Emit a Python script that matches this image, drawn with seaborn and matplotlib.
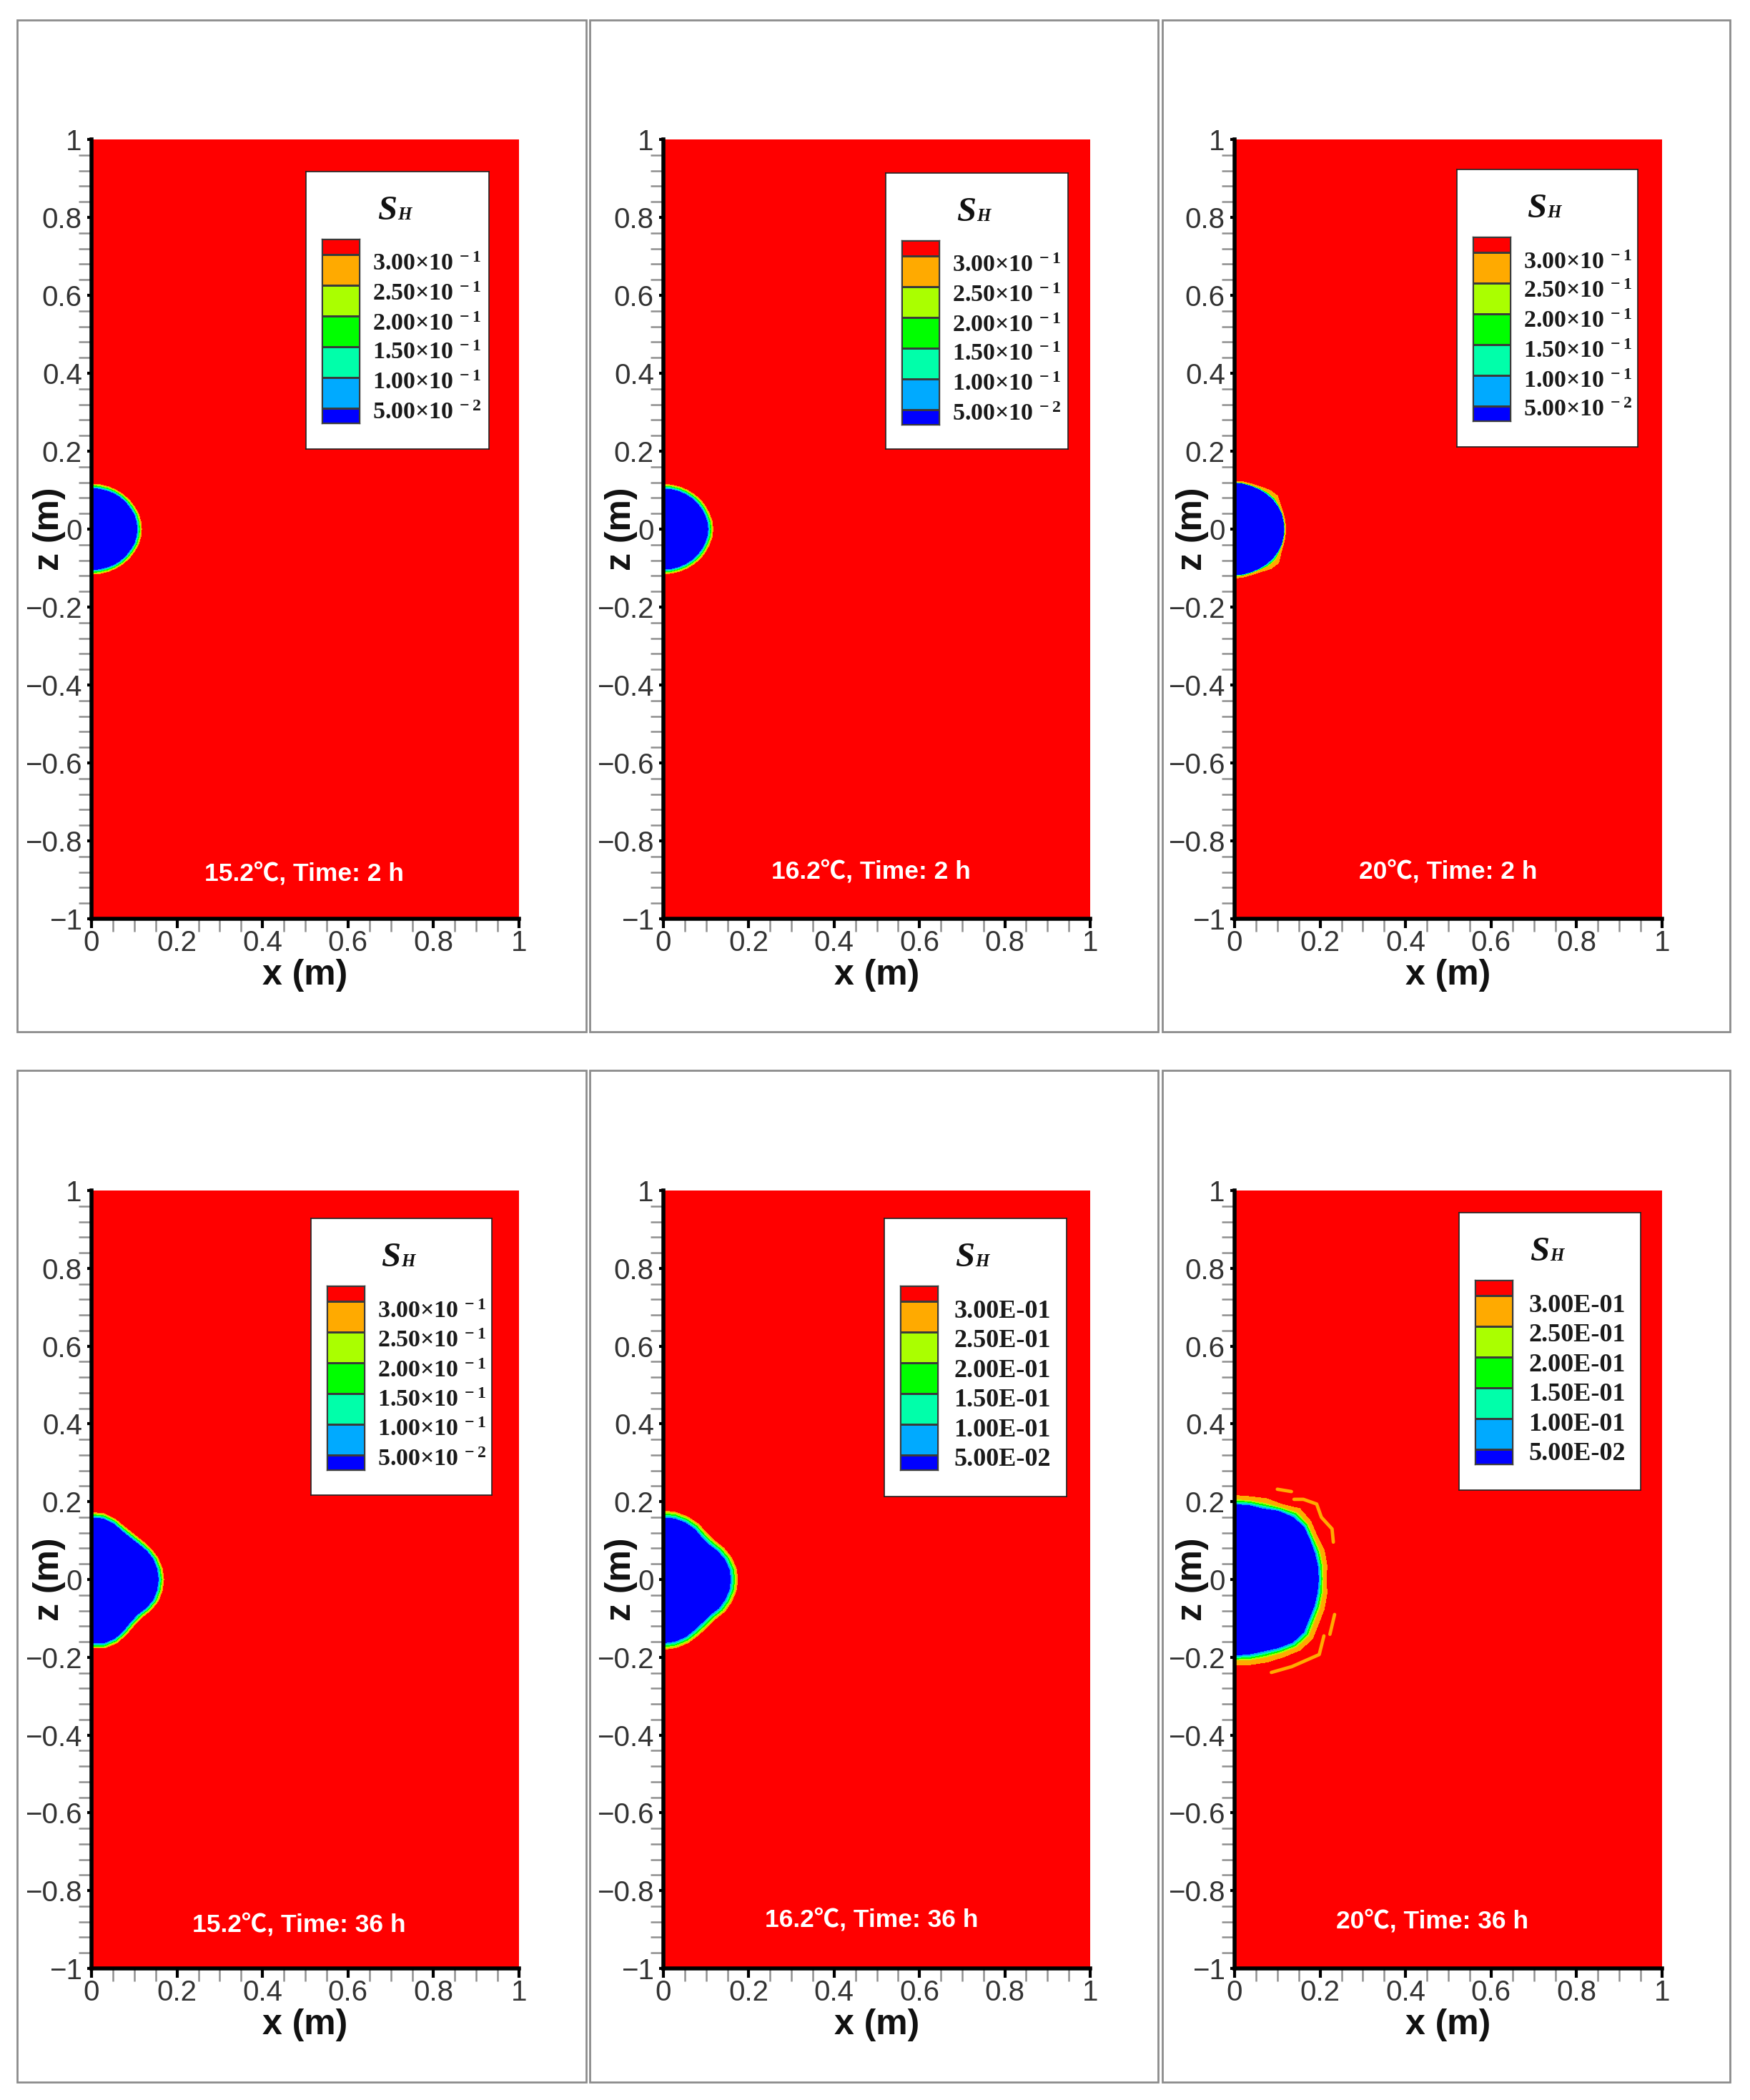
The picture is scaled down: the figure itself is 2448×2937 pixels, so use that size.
# Six contour panels of hydrate saturation, 2 rows x 3 columns

import numpy as np
import seaborn as sns
import matplotlib.pyplot as plt
from matplotlib.colors import ListedColormap
from matplotlib.patches import Rectangle
from matplotlib.transforms import ScaledTranslation

# Data

levels = [0.0, 0.05, 0.10, 0.15, 0.20, 0.25, 0.30, 0.40]
band_colors = ["#0000ff", "#00aaff", "#00ffaa", "#00ff00", "#aaff00", "#ffaa00", "#ff0000"]
sci_labels = ["5.00×10$^{\\,-2}$", "1.00×10$^{\\,-1}$", "1.50×10$^{\\,-1}$", "2.00×10$^{\\,-1}$", "2.50×10$^{\\,-1}$", "3.00×10$^{\\,-1}$"]
e_labels = ["5.00E-02", "1.00E-01", "1.50E-01", "2.00E-01", "2.50E-01", "3.00E-01"]

x_ticks = [0, 0.2, 0.4, 0.6, 0.8, 1]
x_tick_labels = ["0", "0.2", "0.4", "0.6", "0.8", "1"]
z_ticks = [-1, -0.8, -0.6, -0.4, -0.2, 0, 0.2, 0.4, 0.6, 0.8, 1]
z_tick_labels = ["−1", "−0.8", "−0.6", "−0.4", "−0.2", "0", "0.2", "0.4", "0.6", "0.8", "1"]

# stations along the front, degrees from +x axis
angles = [90, 80, 70, 60, 50, 40, 30, 20, 10, 0, -10, -20, -30, -40, -50, -60, -70, -80, -90]

# front radius in metres, S_H = 0.05 (inner) and S_H = 0.30 (outer)
inner_152_2 = [.106, .106, .106, .107, .107, .107, .107, .108, .108, .108, .108, .108, .107, .107, .107, .107, .106, .106, .106]
outer_152_2 = [.118, .118, .118, .118, .118, .118, .118, .119, .119, .119, .119, .119, .118, .118, .118, .118, .118, .118, .118]
inner_162_2 = [.105, .105, .105, .105, .105, .105, .105, .105, .106, .106, .106, .105, .105, .105, .105, .105, .105, .105, .105]
outer_162_2 = [.117, .117, .117, .117, .117, .117, .117, .117, .118, .118, .118, .117, .117, .117, .117, .117, .117, .117, .117]
inner_20_2 = [.120, .119, .118, .118, .118, .118, .118, .118, .117, .117, .117, .118, .118, .118, .118, .118, .118, .119, .119]
outer_20_2 = [.125, .125, .125, .127, .132, .134, .126, .123, .122, .121, .122, .123, .127, .137, .135, .128, .126, .127, .128]
inner_152_36 = [.160, .160, .154, .145, .142, .144, .150, .155, .157, .158, .157, .155, .149, .142, .144, .153, .163, .168, .165]
outer_152_36 = [.174, .174, .167, .158, .155, .157, .162, .167, .170, .171, .170, .168, .162, .155, .157, .166, .176, .181, .178]
inner_162_36 = [.160, .160, .156, .150, .142, .141, .148, .154, .158, .159, .158, .155, .151, .144, .145, .150, .158, .163, .165]
outer_162_36 = [.179, .177, .173, .167, .159, .158, .165, .171, .175, .176, .175, .172, .168, .161, .162, .167, .175, .180, .182]
inner_20_36 = [.194, .195, .195, .205, .212, .213, .205, .201, .199, .198, .198, .200, .203, .213, .213, .205, .198, .197, .196]
outer_20_36 = [.218, .218, .223, .225, .240, .235, .225, .225, .221, .217, .221, .225, .229, .240, .240, .232, .228, .224, .221]

# thin orange streaks outside the front in the last panel (x, z in metres)
streak_x = [[.100, .133], [.139, .161, .192, .203, .228, .231], [.234, .223], [.209, .198, .134, .086]]
streak_z = [[.232, .226], [.206, .206, .194, .160, .130, .096], [-.090, -.141], [-.145, -.193, -.224, -.239]]

captions = ["15.2℃, Time: 2 h", "16.2℃, Time: 2 h", "20℃, Time: 2 h",
            "15.2℃, Time: 36 h", "16.2℃, Time: 36 h", "20℃, Time: 36 h"]

W, H = 2448, 2937

# layout in pixels of the picture
frames = [(24, 28, 820, 1443), (825, 28, 1620, 1443), (1626, 28, 2420, 1443),
          (24, 1497, 820, 2912), (825, 1497, 1620, 2912), (1626, 1497, 2420, 2912)]
axes_px = [(128, 195, 726, 1285), (928, 195, 1525, 1285), (1727, 195, 2325, 1285),
           (128, 1665, 726, 2753), (928, 1665, 1525, 2753), (1727, 1665, 2325, 2753)]
boxes = [(428, 240, 684, 628), (1239, 242, 1494, 628), (2038, 237, 2291, 625),
         (435, 1704, 688, 2091), (1237, 1704, 1492, 2093), (2041, 1696, 2295, 2084)]
caption_xy = [(425, 1222), (1218, 1219), (2026, 1219), (418, 2692), (1219, 2685), (2004, 2687)]

sns.set_theme(style="ticks")
plt.rcParams["font.family"] = ["Liberation Sans", "Noto Sans CJK SC", "DejaVu Sans"]
plt.rcParams["mathtext.fontset"] = "custom"
plt.rcParams["mathtext.rm"] = "Liberation Serif:bold"
plt.rcParams["mathtext.default"] = "rm"

palette = sns.color_palette(band_colors)
cmap = ListedColormap(palette)


def px_axes(fig, box, **kw):
    l, t, r, b = box
    return fig.add_axes([l / W, 1 - b / H, (r - l) / W, (b - t) / H], **kw)


def draw_panel(fig, i, inner, outer, orange=0.8):
    ax = px_axes(fig, axes_px[i])
    th = np.radians(angles)
    inner = np.array(inner)
    outer = np.array(outer)
    mid = inner + orange * (outer - inner)
    # radius columns with the saturation each one carries
    r = np.column_stack([0 * inner, inner, mid, outer, outer * 30])
    s = np.tile([0.0, 0.05, 0.25, 0.30, 0.35], (len(angles), 1))
    ax.contourf(r * np.cos(th)[:, None], r * np.sin(th)[:, None], s, levels=levels, colors=palette)
    ax.set_xlim(0, 1)
    ax.set_ylim(-1, 1)

    sns.despine(ax=ax)
    for side in ["left", "bottom"]:
        ax.spines[side].set_linewidth(4)
        ax.spines[side].set_color("black")
    ax.set_xticks(x_ticks, x_tick_labels)
    ax.set_yticks(z_ticks, z_tick_labels)
    ax.set_xticks(np.arange(0, 1.001, 0.05), minor=True)
    ax.set_yticks(np.arange(-1, 1.001, 0.04), minor=True)
    ax.tick_params(axis="x", which="major", length=9, width=3, color="black", pad=2, labelsize=29, labelcolor="#333333")
    ax.tick_params(axis="y", which="major", length=4.5, width=3, color="black", pad=5, labelsize=29, labelcolor="#333333")
    ax.tick_params(which="minor", length=13, width=1.8, color="#8f8f8f")
    ax.set_xlabel("x (m)", fontsize=36, fontweight="bold", color="#111111", va="center")
    ax.set_ylabel("z (m)", fontsize=36, fontweight="bold", color="#111111", va="center")
    ax.xaxis.set_label_coords(0.5, -0.0725)
    ax.yaxis.set_label_coords(-0.099, 0.5)

    fig.text(caption_xy[i][0] / W, 1 - caption_xy[i][1] / H, captions[i], color="white",
             fontsize=25.5, fontweight="bold", ha="center", va="center")
    return ax


def draw_legend(fig, i, labels):
    l, t, r, b = boxes[i]
    box_ax = px_axes(fig, boxes[i], zorder=5)
    box_ax.set_xticks([])
    box_ax.set_yticks([])
    box_ax.set_facecolor("white")
    for spine in box_ax.spines.values():
        spine.set_color("#222222")
        spine.set_linewidth(1.2)

    # title sits on one baseline, small H after big S
    title_x = (l + r) / 2 - 6
    title_y = t + 67
    for txt, dx, size in [("S", -22, 35), ("H", 6, 18)]:
        fig.text((title_x + dx) / W, 1 - title_y / H, txt, family="Liberation Serif", style="italic",
                 fontweight="bold", fontsize=size, color="#111111", ha="left", va="baseline", zorder=6)

    bar_ax = px_axes(fig, (l + 22, t + 94, l + 75, t + 352), zorder=6)
    edges = [0.025, 0.05, 0.10, 0.15, 0.20, 0.25, 0.30, 0.325]
    bar_ax.pcolormesh([0, 1], edges, np.arange(7).reshape(7, 1), cmap=cmap, edgecolors="#3a3a3a", linewidth=0.9)
    bar_ax.set_ylim(edges[0], edges[-1])
    bar_ax.set_xticks([])
    bar_ax.yaxis.tick_right()
    is_e = labels is e_labels
    bar_ax.set_yticks(levels[1:7], labels, fontsize=26 if is_e else 24.5, family="Liberation Serif",
                      fontweight="bold", color="#1a1a1a")
    bar_ax.tick_params(axis="y", length=0, pad=16 if is_e else 13)
    for spine in bar_ax.spines.values():
        spine.set_color("#3a3a3a")
        spine.set_linewidth(1)
    # labels hang a little below their level line, more toward the top
    for lab, drop in zip(bar_ax.get_yticklabels(), [3, 5, 6, 8, 9, 11]):
        shift = ScaledTranslation(0, -drop / 100, fig.dpi_scale_trans)
        lab.set_transform(lab.get_transform() + shift)


fig = plt.figure(figsize=(W / 100, H / 100), dpi=100, facecolor="white")

for l, t, r, b in frames:
    fig.add_artist(Rectangle((l / W, 1 - b / H), (r - l) / W, (b - t) / H, transform=fig.transFigure,
                             fill=False, edgecolor="#8c8c8c", linewidth=2))

panels = [(inner_152_2, outer_152_2, 0.8, sci_labels), (inner_162_2, outer_162_2, 0.8, sci_labels),
          (inner_20_2, outer_20_2, 0.4, sci_labels), (inner_152_36, outer_152_36, 0.8, sci_labels),
          (inner_162_36, outer_162_36, 0.8, e_labels), (inner_20_36, outer_20_36, 0.55, e_labels)]

for i, (inner, outer, orange, labels) in enumerate(panels):
    ax = draw_panel(fig, i, inner, outer, orange)
    draw_legend(fig, i, labels)
    if i == 5:
        for sx, sz in zip(streak_x, streak_z):
            sns.lineplot(x=sx, y=sz, sort=False, ax=ax, color=band_colors[5], linewidth=3.4, estimator=None)

fig.savefig("out.png", dpi=100)
